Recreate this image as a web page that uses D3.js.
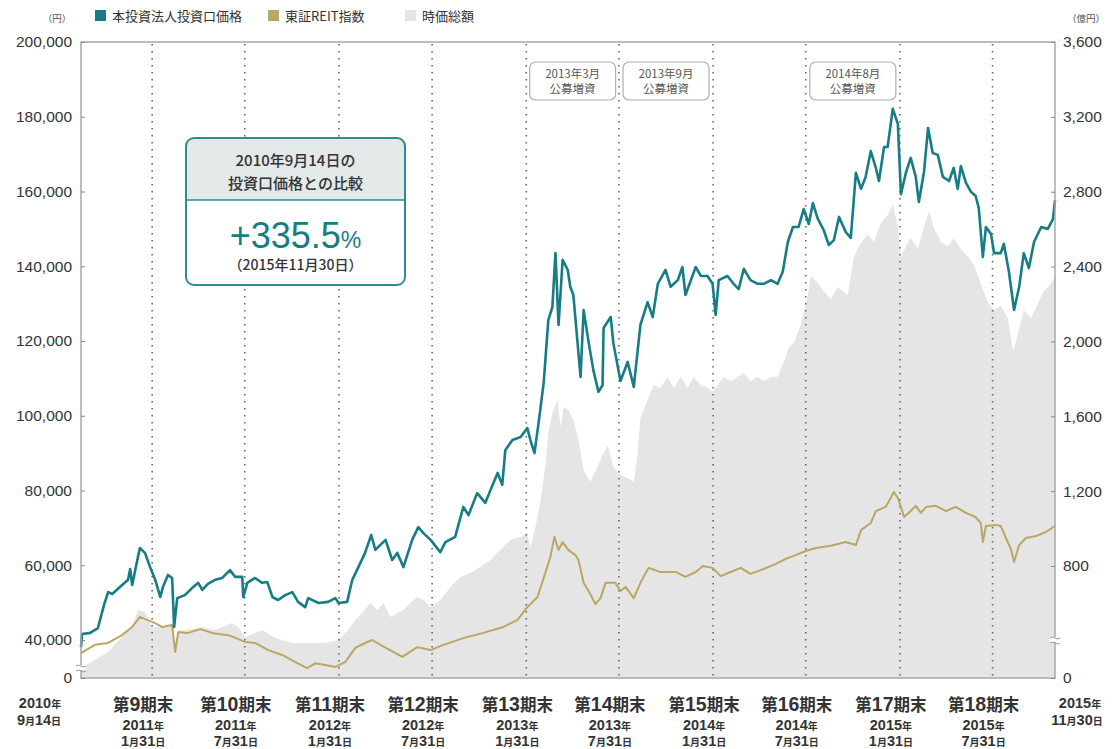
<!DOCTYPE html>
<html><head><meta charset="utf-8">
<script src="https://cdn.jsdelivr.net/npm/d3@7"></script>
<style>
body{margin:0;background:#fff;}
svg{display:block;}
</style></head><body>
<svg id="c" width="1112" height="749"></svg>
<script>
// ---- data ----
const priceSeries = [["2010-09-14",38100],["2010-09-16",41600],["2010-10-02",41900],["2010-10-17",43200],["2010-10-29",49400],["2010-11-06",52800],["2010-11-14",52300],["2010-11-29",54200],["2010-12-15",56100],["2010-12-19",59000],["2010-12-23",54700],["2011-01-02",61400],["2011-01-07",64600],["2011-01-17",63300],["2011-01-27",59500],["2011-02-06",56100],["2011-02-16",51500],["2011-02-21",54200],["2011-03-03",57400],["2011-03-11",56600],["2011-03-15",43500],["2011-03-21",51200],["2011-04-05",52000],["2011-04-19",53900],["2011-05-01",55300],["2011-05-09",53400],["2011-05-20",55000],["2011-06-03",56100],["2011-06-17",56600],["2011-07-02",58700],["2011-07-12",56900],["2011-07-26",56900],["2011-07-28",51500],["2011-08-05",55300],["2011-08-20",56600],["2011-09-03",55300],["2011-09-13",55500],["2011-09-23",51500],["2011-10-04",50700],["2011-10-18",52000],["2011-11-01",52800],["2011-11-12",50200],["2011-11-26",48800],["2011-12-02",51200],["2011-12-22",49900],["2012-01-10",50200],["2012-01-24",51200],["2012-01-30",49900],["2012-02-16",50200],["2012-02-26",56100],["2012-03-09",59500],["2012-03-22",63300],["2012-04-03",68100],["2012-04-11",64100],["2012-05-01",66800],["2012-05-14",61400],["2012-05-24",63300],["2012-06-05",59500],["2012-06-22",66800],["2012-07-04",70200],["2012-07-14",68600],["2012-07-28",66800],["2012-08-16",63500],["2012-08-26",66200],["2012-09-14",67600],["2012-09-30",75600],["2012-10-10",73400],["2012-10-27",79300],["2012-11-12",76700],["2012-11-22",80100],["2012-12-06",84700],["2012-12-15",81500],["2012-12-21",90800],["2013-01-04",93500],["2013-01-20",94300],["2013-02-02",96700],["2013-02-08",93500],["2013-02-16",90000],["2013-02-24",98100],["2013-03-06",108800],["2013-03-15",125600],["2013-03-23",129100],["2013-03-29",143500],["2013-04-04",124300],["2013-04-12",141700],["2013-04-22",139000],["2013-04-27",134500],["2013-05-03",132300],["2013-05-17",110400],["2013-05-23",128300],["2013-06-02",119500],["2013-06-11",112200],["2013-06-21",106400],["2013-06-29",108200],["2013-07-01",123500],["2013-07-15",126400],["2013-07-20",119500],["2013-08-03",109300],["2013-08-17",114400],["2013-08-29",107700],["2013-09-11",124300],["2013-09-25",130400],["2013-10-05",126400],["2013-10-15",135300],["2013-10-30",139000],["2013-11-09",134500],["2013-11-23",136300],["2013-12-02",139800],["2013-12-08",132300],["2013-12-28",139800],["2014-01-07",137400],["2014-01-20",137400],["2014-01-30",135300],["2014-02-05",127000],["2014-02-11",136300],["2014-02-28",137400],["2014-03-12",135300],["2014-03-22",133900],["2014-04-01",139300],["2014-04-14",136300],["2014-04-28",135300],["2014-05-10",135300],["2014-05-24",136300],["2014-06-06",135300],["2014-06-16",138500],["2014-06-26",146500],["2014-07-06",150500],["2014-07-17",150500],["2014-07-27",155300],["2014-08-06",151300],["2014-08-14",156900],["2014-08-23",152900],["2014-09-04",149700],["2014-09-14",145700],["2014-09-24",147000],["2014-10-04",153200],["2014-10-17",149200],["2014-10-27",147600],["2014-11-06",165000],["2014-11-16",160700],["2014-11-25",163900],["2014-12-05",170800],["2014-12-15",166300],["2014-12-21",162800],["2014-12-31",171900],["2015-01-07",171900],["2015-01-17",182100],["2015-01-27",178100],["2015-02-02",159300],["2015-02-12",165200],["2015-02-21",169000],["2015-03-03",163900],["2015-03-09",157200],["2015-03-19",165200],["2015-03-27",177000],["2015-04-05",170300],["2015-04-15",169800],["2015-04-25",163900],["2015-05-07",162800],["2015-05-16",166300],["2015-05-24",160700],["2015-05-30",166800],["2015-06-09",162300],["2015-06-19",159900],["2015-06-28",158800],["2015-07-04",155600],["2015-07-12",142500],["2015-07-18",150500],["2015-07-28",148600],["2015-08-03",143500],["2015-08-16",143500],["2015-08-22",146000],["2015-09-01",138500],["2015-09-11",128300],["2015-09-21",134500],["2015-09-30",143500],["2015-10-10",139500],["2015-10-20",146500],["2015-11-03",150500],["2015-11-16",150000],["2015-11-26",152600],["2015-11-30",157700]];

const reitSeries = [["2010-09-14",36500],["2010-10-11",38700],["2010-11-06",39200],["2010-12-03",41300],["2010-12-23",43500],["2011-01-07",46200],["2011-01-21",45400],["2011-02-06",44500],["2011-02-19",43500],["2011-03-11",44000],["2011-03-17",36800],["2011-03-23",42100],["2011-04-11",41900],["2011-05-05",42900],["2011-05-28",41900],["2011-06-29",41300],["2011-08-01",39500],["2011-08-20",39200],["2011-09-15",37300],["2011-10-12",36000],["2011-11-07",34100],["2011-11-30",32500],["2011-12-16",33800],["2012-01-04",33300],["2012-01-24",32800],["2012-02-12",34100],["2012-03-03",37900],["2012-03-22",39200],["2012-04-05",40000],["2012-04-21",38700],["2012-05-16",36800],["2012-06-03",35500],["2012-07-02",38100],["2012-07-28",37300],["2012-08-22",38700],["2012-09-30",40500],["2012-11-08",41900],["2012-12-17",43500],["2013-01-14",45400],["2013-02-02",48800],["2013-02-22",51500],["2013-03-09",57900],["2013-03-19",62200],["2013-03-27",67600],["2013-04-04",64100],["2013-04-12",66200],["2013-04-23",64100],["2013-05-07",62700],["2013-05-13",61400],["2013-05-23",55300],["2013-06-05",52300],["2013-06-15",49600],["2013-06-25",51200],["2013-07-05",55300],["2013-07-24",55300],["2013-08-03",53100],["2013-08-13",54200],["2013-08-29",51200],["2013-09-11",55300],["2013-09-27",59300],["2013-10-20",58200],["2013-11-19",58200],["2013-12-08",56900],["2013-12-28",58200],["2014-01-11",59800],["2014-01-30",59300],["2014-02-15",57100],["2014-03-06",58200],["2014-03-26",59300],["2014-04-14",57700],["2014-05-04",58700],["2014-06-02",60300],["2014-06-22",61700],["2014-07-11",62700],["2014-07-31",63800],["2014-08-20",64600],["2014-09-18",65200],["2014-10-17",66200],["2014-11-06",65400],["2014-11-16",69400],["2014-12-05",71300],["2014-12-15",74500],["2015-01-03",75600],["2015-01-13",78000],["2015-01-19",79600],["2015-01-27",78000],["2015-02-02",75600],["2015-02-08",72900],["2015-02-21",74500],["2015-03-03",75900],["2015-03-13",74000],["2015-03-23",75600],["2015-04-11",75900],["2015-05-01",74500],["2015-05-20",75600],["2015-06-09",74000],["2015-06-28",72900],["2015-07-08",71300],["2015-07-12",66200],["2015-07-18",70500],["2015-08-07",70800],["2015-08-16",70500],["2015-08-26",67300],["2015-09-05",64300],["2015-09-11",60900],["2015-09-21",65400],["2015-10-04",67300],["2015-10-24",67800],["2015-11-12",68900],["2015-11-30",70500]];

const capSeries = [["2010-09-14",255],["2010-10-11",298],["2010-11-06",340],["2010-12-03",421],["2010-12-23",474],["2011-01-03",565],["2011-01-17",554],["2011-01-31",474],["2011-02-25",474],["2011-03-11",495],["2011-03-17",389],["2011-03-23",458],["2011-04-05",458],["2011-05-09",474],["2011-06-03",458],["2011-07-06",495],["2011-07-18",474],["2011-08-01",421],["2011-08-20",442],["2011-09-03",458],["2011-09-28",415],["2011-11-01",389],["2011-12-02",389],["2012-01-04",389],["2012-01-30",405],["2012-02-18",458],["2012-03-03",511],["2012-03-17",549],["2012-04-01",602],["2012-04-15",565],["2012-04-27",602],["2012-05-10",527],["2012-05-24",549],["2012-06-05",565],["2012-06-18",602],["2012-07-02",634],["2012-07-14",618],["2012-07-28",581],["2012-08-16",618],["2012-09-05",688],["2012-09-24",741],["2012-10-14",763],["2012-11-02",795],["2012-11-22",832],["2012-12-11",885],["2012-12-31",939],["2013-01-20",955],["2013-02-02",976],["2013-02-08",902],["2013-02-18",1008],["2013-02-28",1153],["2013-03-09",1329],["2013-03-15",1511],["2013-03-23",1618],["2013-04-02",1687],["2013-04-08",1543],["2013-04-14",1650],["2013-04-23",1634],["2013-05-03",1580],["2013-05-13",1473],["2013-05-23",1313],["2013-06-05",1250],["2013-06-25",1366],["2013-07-09",1447],["2013-07-20",1329],["2013-08-03",1286],["2013-08-17",1270],["2013-08-29",1249],["2013-09-05",1388],["2013-09-11",1591],["2013-09-25",1687],["2013-10-07",1767],["2013-10-20",1751],["2013-11-03",1810],["2013-11-15",1751],["2013-11-29",1810],["2013-12-12",1751],["2013-12-24",1810],["2014-01-07",1767],["2014-01-20",1751],["2014-01-30",1730],["2014-02-09",1767],["2014-02-21",1810],["2014-03-06",1789],["2014-03-20",1810],["2014-04-01",1831],["2014-04-14",1789],["2014-04-28",1810],["2014-05-10",1789],["2014-05-24",1810],["2014-06-06",1810],["2014-06-18",1890],["2014-06-28",1970],["2014-07-08",1992],["2014-07-21",2088],["2014-08-04",2248],["2014-08-10",2350],["2014-08-23",2312],["2014-09-04",2269],["2014-09-18",2227],["2014-10-02",2291],["2014-10-21",2248],["2014-11-02",2451],["2014-11-12",2510],["2014-11-29",2574],["2014-12-11",2531],["2014-12-25",2633],["2015-01-07",2676],["2015-01-17",2734],["2015-01-27",2611],["2015-02-02",2451],["2015-02-12",2510],["2015-02-21",2553],["2015-03-07",2494],["2015-03-19",2611],["2015-03-29",2697],["2015-04-07",2611],["2015-04-21",2531],["2015-05-05",2510],["2015-05-16",2553],["2015-05-30",2494],["2015-06-13",2451],["2015-06-25",2408],["2015-07-08",2307],["2015-07-22",2205],["2015-08-03",2168],["2015-08-16",2189],["2015-08-30",2125],["2015-09-09",1944],["2015-09-19",2045],["2015-09-30",2168],["2015-10-14",2125],["2015-10-28",2205],["2015-11-08",2269],["2015-11-22",2307],["2015-11-30",2350]];

const periodEnds = ["2011-01-31","2011-07-31","2012-01-31","2012-07-31","2013-01-31","2013-07-31","2014-01-31","2014-07-31","2015-01-31","2015-07-31"];
const periodLabels = ["第9期末","第10期末","第11期末","第12期末","第13期末","第14期末","第15期末","第16期末","第17期末","第18期末"];
const periodYears = ["2011年","2011年","2012年","2012年","2013年","2013年","2014年","2014年","2015年","2015年"];
const periodDays = ["1月31日","7月31日","1月31日","7月31日","1月31日","7月31日","1月31日","7月31日","1月31日","7月31日"];
const leftTicks = [0,40000,60000,80000,100000,120000,140000,160000,180000,200000];
const rightTicks = [0,800,1200,1600,2000,2400,2800,3200,3600];
const offeringLine1 = ["2013年3月","2013年9月","2014年8月"];
const offeringLine2 = ["公募増資","公募増資","公募増資"];
const offeringSpan = [["2013-01-31","2013-07-31"],["2013-07-31","2014-01-31"],["2014-07-31","2015-01-31"]];
const legendNames = ["本投資法人投資口価格","東証REIT指数","時価総額"];
const startLabel = ["2010年","9月14日"];
const endLabel = ["2015年","11月30日"];
const compareTitle = ["2010年9月14日の","投資口価格との比較"];
const compareValue = "+335.5";
const compareDate = "（2015年11月30日）";

// ---- setup ----
const parse = d3.timeParse("%Y-%m-%d");
const svg = d3.select("#c");
const L = 81, R = 1055, T = 42, B = 678;
const TEAL = "#167d84", GOLD = "#b9a763", GREY = "#e5e5e5";
const CJK = "'Noto Sans CJK JP','Noto Sans',sans-serif";
const NUM = "'Liberation Sans',Arial,sans-serif";

const x = d3.scaleTime().domain([parse("2010-09-14"), parse("2015-11-30")]).range([L, R]);
const yL = d3.scaleLinear().domain([40000, 200000]).range([640, T]);
const yR = d3.scaleLinear().domain([800, 3600]).range([566, T]);
const yLAxis = d3.scaleLinear().domain([0, 40000, 200000]).range([B, 640, T]);
const yRAxis = d3.scaleLinear().domain([0, 800, 3600]).range([B, 566, T]);

const toPts = s => s.map(d => ({date: parse(d[0]), v: d[1]}));
const price = toPts(priceSeries), reit = toPts(reitSeries), cap = toPts(capSeries);

// area
svg.append("path").datum(cap)
  .attr("d", d3.area().x(d => x(d.date)).y0(B).y1(d => yR(d.v)))
  .attr("fill", GREY);

// dotted period lines
svg.append("g").selectAll("line").data(periodEnds).join("line")
  .attr("x1", d => x(parse(d))).attr("x2", d => x(parse(d)))
  .attr("y1", T + 2).attr("y2", B)
  .attr("stroke", "#666").attr("stroke-width", 1.6).attr("stroke-dasharray", "1.6,5.4");

// lines
svg.append("path").datum(reit)
  .attr("d", d3.line().x(d => x(d.date)).y(d => yL(d.v)))
  .attr("fill", "none").attr("stroke", GOLD).attr("stroke-width", 2).attr("stroke-linejoin", "round");
svg.append("path").datum(price)
  .attr("d", d3.line().x(d => x(d.date)).y(d => yL(d.v)))
  .attr("fill", "none").attr("stroke", TEAL).attr("stroke-width", 2.6).attr("stroke-linejoin", "round");

// frame
svg.append("rect").attr("x", L).attr("y", T).attr("width", R - L).attr("height", B - T)
  .attr("fill", "none").attr("stroke", "#a8a8a8").attr("stroke-width", 1.5);

// axes
const ga = svg.append("g").attr("transform", `translate(${L},0)`)
  .call(d3.axisLeft(yLAxis).tickValues(leftTicks).tickSize(-4).tickPadding(9).tickFormat(d3.format(",")));
const gb = svg.append("g").attr("transform", `translate(${R},0)`)
  .call(d3.axisRight(yRAxis).tickValues(rightTicks).tickSize(-4).tickPadding(8).tickFormat(d3.format(",")));
[ga, gb].forEach(g => {
  g.select(".domain").remove();
  g.selectAll(".tick line").attr("stroke", "#888");
  g.selectAll(".tick text").attr("font-family", NUM).attr("font-size", 15.5).attr("fill", "#333");
});

// axis breaks
function brk(cx, cy) {
  const g = svg.append("g");
  g.append("rect").attr("x", cx - 5).attr("y", cy - 3).attr("width", 10).attr("height", 5).attr("fill", "#fff");
  [-3, 2].forEach(o => g.append("path")
    .attr("d", `M${cx-5},${cy+o+1} q2.5,-2 5,0 t5,0`)
    .attr("fill", "none").attr("stroke", "#999").attr("stroke-width", 1));
}
brk(L, 668); brk(R, 640);

// unit labels
svg.append("text").attr("x", 57).attr("y", 22).attr("text-anchor", "middle")
  .attr("font-family", CJK).attr("font-size", 9.5).attr("fill", "#555").text("（円）");
svg.append("text").attr("x", 1086).attr("y", 22).attr("text-anchor", "middle")
  .attr("font-family", CJK).attr("font-size", 9.5).attr("fill", "#555").text("（億円）");

// legend
const legColors = [TEAL, GOLD, GREY];
const legX = [95, 268, 405];
legendNames.forEach((n, i) => {
  svg.append("rect").attr("x", legX[i]).attr("y", 10).attr("width", 11).attr("height", 11).attr("fill", legColors[i]);
  svg.append("text").attr("x", legX[i] + 17).attr("y", 20.5).attr("font-family", CJK).attr("font-size", 13)
    .attr("fill", "#333").text(n);
});

// rich text helper: digits big (sans), others small (CJK)
function rich(str, cx, cy, big, small, anchor, weight) {
  const t = svg.append("text").attr("x", cx).attr("y", cy).attr("text-anchor", anchor || "middle")
    .attr("fill", "#333").attr("font-weight", weight || 400);
  str.match(/[0-9]+|[^0-9]+/g).forEach(p => {
    const isNum = /\d/.test(p);
    t.append("tspan").attr("font-family", isNum ? NUM : CJK)
      .attr("font-size", isNum ? big : small).text(p);
  });
  return t;
}

// bottom labels
periodEnds.forEach((d, i) => {
  const cx = x(parse(d)) - 9;
  rich(periodLabels[i], cx, 711, 19.5, 16.5, "middle", 700);
  rich(periodYears[i], cx, 729.5, 14.5, 10, "middle", 700);
  rich(periodDays[i], cx, 746, 14.5, 10, "middle", 700);
});
rich(startLabel[0], x(parse("2010-09-14")) - 41, 708, 14.5, 10, "middle", 700);
rich(startLabel[1], x(parse("2010-09-14")) - 42, 725, 14.5, 10, "middle", 700);
rich(endLabel[0], x(parse("2015-11-30")) + 25, 708, 14.5, 10, "middle", 700);
rich(endLabel[1], x(parse("2015-11-30")) + 22, 725, 14.5, 10, "middle", 700);

// offering boxes
offeringSpan.forEach((s, i) => {
  const cx = (x(parse(s[0])) + x(parse(s[1]))) / 2;
  svg.append("rect").attr("x", cx - 43).attr("y", 62).attr("width", 86).attr("height", 38).attr("rx", 6)
    .attr("fill", "#fff").attr("stroke", "#b0b0b0").attr("stroke-width", 1.2);
  svg.append("text").attr("x", cx).attr("y", 78).attr("text-anchor", "middle").attr("font-family", CJK)
    .attr("font-size", 11.5).attr("fill", "#555").text(offeringLine1[i]);
  svg.append("text").attr("x", cx).attr("y", 93).attr("text-anchor", "middle").attr("font-family", CJK)
    .attr("font-size", 11.5).attr("fill", "#555").text(offeringLine2[i]);
});

// comparison box
const bx = 186, by = 138, bw = 219, bh = 147, br = 8, split = 200;
svg.append("rect").attr("x", bx).attr("y", by).attr("width", bw).attr("height", bh).attr("rx", br)
  .attr("fill", "#fff");
svg.append("path")
  .attr("d", `M${bx},${split} V${by+br} Q${bx},${by} ${bx+br},${by} H${bx+bw-br} Q${bx+bw},${by} ${bx+bw},${by+br} V${split} Z`)
  .attr("fill", "#e3e8e8");
svg.append("line").attr("x1", bx).attr("x2", bx + bw).attr("y1", split).attr("y2", split)
  .attr("stroke", "#2e8b8f").attr("stroke-width", 1.5);
svg.append("rect").attr("x", bx).attr("y", by).attr("width", bw).attr("height", bh).attr("rx", br)
  .attr("fill", "none").attr("stroke", "#2e8b8f").attr("stroke-width", 2);
compareTitle.forEach((t, i) => {
  svg.append("text").attr("x", bx + bw / 2).attr("y", 166 + i * 23).attr("text-anchor", "middle")
    .attr("font-family", CJK).attr("font-size", 15).attr("font-weight", 500).attr("fill", "#333").text(t);
});
const tv = svg.append("text").attr("x", bx + bw / 2).attr("y", 248).attr("text-anchor", "middle")
  .attr("font-family", NUM).attr("fill", TEAL);
tv.append("tspan").attr("font-size", 36).text(compareValue);
tv.append("tspan").attr("font-size", 23).text("%");
svg.append("text").attr("x", bx + bw / 2).attr("y", 270).attr("text-anchor", "middle")
  .attr("font-family", CJK).attr("font-size", 14).attr("font-weight", 500).attr("fill", "#333").text(compareDate);
</script>
</body></html>
